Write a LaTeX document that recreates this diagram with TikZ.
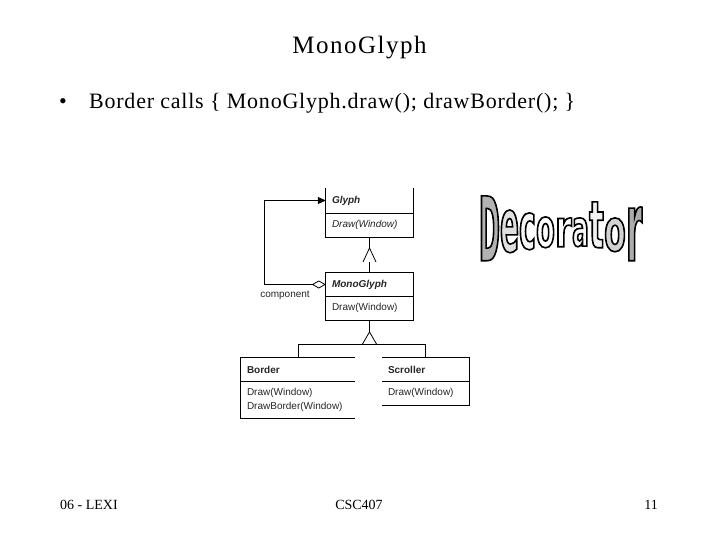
\documentclass[tikz,border=0pt]{standalone}
\usepackage{fontspec}
\setmainfont{Liberation Serif}
\setsansfont{Liberation Sans}
\newfontfamily\decofont{DejaVu Sans Bold}
\usetikzlibrary{arrows.meta}
\newlength\dlw \newlength\dlh \newlength\dld
% one outlined, condensed letter of the word art: letter, width, height, fill colour
\newcommand\decoglyph[4]{%
  \settowidth\dlw{\decofont\fontsize{10}{12}\selectfont #1}%
  \settoheight\dlh{\decofont\fontsize{10}{12}\selectfont #1}%
  \settodepth\dld{\decofont\fontsize{10}{12}\selectfont #1}%
  \pgfmathsetmacro\dfs{#3/(\dlh+\dld+0.01)*10}%
  \pgfmathsetmacro\dst{#2/(\dlw+0.01)*10/\dfs}%
  \decofont\addfontfeature{FakeStretch=\dst}\fontsize{\dfs}{\dfs}\selectfont\color{#4}%
  \special{pdf:literal direct 2 Tr 1.6 w 0 G}#1\special{pdf:literal direct 0 Tr}%
}
\newcommand\decoletter[7]{\node[anchor=south west,inner sep=0pt] (#1) at (#3,#4) {\decoglyph{#2}{#5}{#6}{#7}};}
\tikzset{
  cls/.style={minimum width=87pt, text width=75pt, align=left, inner xsep=6pt, inner ysep=0pt,
    font=\sffamily\fontsize{10}{14}\selectfont, text=black!85},
  uml/.style={line width=0.8pt, black},
  slidetext/.style={inner sep=0pt, text=black},
}
\begin{document}
\begin{tikzpicture}[x=1pt,y=-1pt]
\useasboundingbox (0,0) rectangle (720,540);
\fill[white] (0,0) rectangle (720,540);

% title and bullet
\node[slidetext, anchor=base, font=\fontsize{25}{30}\selectfont\addfontfeature{LetterSpace=6}] (title) at (359.5,54) {MonoGlyph};
\node[slidetext, anchor=base, font=\fontsize{22}{26}\selectfont] (bul) at (63,109) {•};
\node[slidetext, anchor=base west, font=\fontsize{22}{26}\selectfont\addfontfeature{LetterSpace=3.5}] (line) at (89,109) {Border calls \{ MonoGlyph.draw(); drawBorder(); \}};

% footer
\node[slidetext, anchor=base west, font=\fontsize{14}{16}\selectfont] (foot1) at (60,509) {06 - LEXI};
\node[slidetext, anchor=base, font=\fontsize{14}{16}\selectfont] (foot2) at (359,509) {CSC407};
\node[slidetext, anchor=base, font=\fontsize{14}{16}\selectfont] (foot3) at (651,509) {11};

% class nodes
\node[cls, minimum height=25pt] (gname) at (369.5,200.5) {\textbf{\textit{Glyph}}};
\node[cls, minimum height=24pt] (gmeth) at (369.5,225) {\textit{Draw(Window)}};
\node[cls, minimum height=23pt] (mname) at (369.5,284.5) {\textbf{\textit{MonoGlyph}}};
\node[cls, minimum height=24pt] (mmeth) at (369.5,308) {Draw(Window)};
\node[cls, text width=102pt, minimum height=23pt] (bname) at (298,369.5) {\textbf{Border}};
\node[cls, text width=102pt, minimum height=37pt] (bmeth) at (298,399.5) {Draw(Window)\\DrawBorder(Window)};
\node[cls, minimum height=23pt] (sname) at (425.5,369.5) {\textbf{Scroller}};
\node[cls, minimum height=24pt] (smeth) at (425.5,393) {Draw(Window)};

% class outlines (as cropped in the original)
\draw[uml] (gname.north west) -- (gmeth.south west) -- (gmeth.south east) -- (gname.north east);
\draw[uml] (gname.south west) -- (gname.south east);
\draw[uml] (mname.north west) rectangle (mmeth.south east);
\draw[uml] (mname.south west) -- (mname.south east);
\draw[uml] (bname.north east) -- (bname.north west) -- (bmeth.south west) -- (bmeth.south east);
\draw[uml] (bname.south west) -- (bname.south east);
\draw[uml] (sname.north west) -- (sname.north east) -- (smeth.south east) -- (smeth.south west);
\draw[uml] (sname.south west) -- (sname.south east);

% inheritance Glyph <- MonoGlyph
\coordinate (t1) at (369.5,248);
\coordinate (t1b) at (369.5,262);
\draw[uml] (gmeth.south) -- (t1);
\draw[uml] ([xshift=-6.5pt]t1b) -- (t1) -- ([xshift=6.5pt]t1b);
\draw[uml] (t1b) -- (mname.north);

% inheritance MonoGlyph <- Border, Scroller
\coordinate (t2) at (369.5,332);
\coordinate (bar) at (0,344);
\draw[uml] (mmeth.south) -- (t2);
\draw[uml] ([xshift=-7pt]t2 |- bar) -- (t2) -- ([xshift=7pt]t2 |- bar);
\draw[uml] (bname.north) -- (bname.north |- bar) -- (sname.north |- bar) -- (sname.north);

% aggregation component
\draw[uml, {Diamond[open,length=14pt,width=8pt]}-{Triangle[length=8pt,width=7pt]}] (mname.west) -- ++(-61pt,0) |- (gname.west);
\node[font=\sffamily\fontsize{10}{12}\selectfont, text=black!85, inner sep=0pt] (comp) at (285,295) {component};

% Decorator word art
\decoletter{d1}{D}{479}{261}{20.6}{65}{gray!60}
\decoletter{d2}{e}{500}{253}{18.6}{43}{gray!25}
\decoletter{d3}{c}{519}{250}{16.6}{37}{gray!8}
\decoletter{d4}{o}{536}{248}{18.6}{31}{white}
\decoletter{d5}{r}{555}{247}{16.6}{29}{white}
\decoletter{d6}{a}{572}{247}{16.6}{29}{gray!5}
\decoletter{d7}{t}{589}{248}{14.6}{46}{gray!10}
\decoletter{d8}{o}{604}{252}{21.6}{34}{gray!35}
\decoletter{d9}{r}{626}{261}{16}{54}{gray!65}
\end{tikzpicture}
\end{document}
